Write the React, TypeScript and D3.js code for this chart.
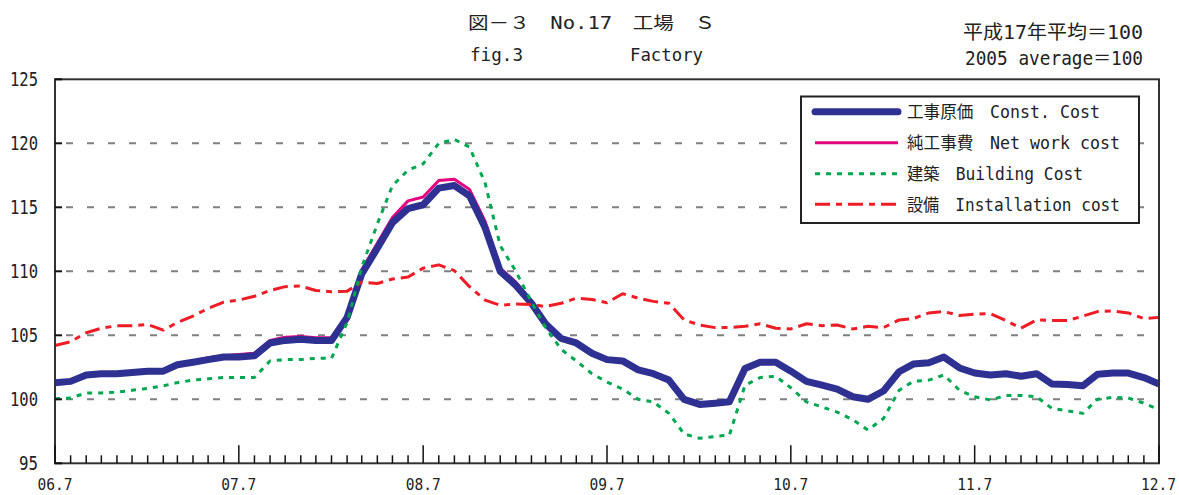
import React from "react";
import * as d3 from "d3";

const months: Date[] = d3.timeMonth.range(new Date(2006, 6, 1), new Date(2012, 7, 1));

const constCost = [
  101.3, 101.4, 101.9, 102.0, 102.0, 102.1, 102.2, 102.2, 102.7, 102.9, 103.1, 103.3,
  103.3, 103.4, 104.4, 104.6, 104.7, 104.6, 104.6, 106.4, 109.8, 111.8, 113.8, 114.9,
  115.2, 116.5, 116.7, 115.9, 113.4, 110.0, 108.9, 107.5, 105.9, 104.75, 104.4, 103.6,
  103.1, 103.0, 102.3, 102.0, 101.5, 100.0, 99.6, 99.7, 99.8, 102.4, 102.9, 102.9,
  102.2, 101.4, 101.1, 100.8, 100.2, 100.0, 100.65, 102.15, 102.75, 102.85, 103.3, 102.45,
  102.05, 101.9, 102.0, 101.8, 102.0, 101.2, 101.15, 101.05, 101.95, 102.05, 102.05, 101.7,
  101.2,
];

const netWorkCost = [
  101.35, 101.45, 101.95, 102.05, 102.1, 102.2, 102.3, 102.3, 102.8, 103.0, 103.25, 103.4,
  103.5, 103.6, 104.6, 104.85, 104.9, 104.8, 104.8, 106.55, 110.1, 112.2, 114.2, 115.5,
  115.8, 117.1, 117.2, 116.4, 113.9, 110.25, 109.15, 107.65, 106.0, 104.85, 104.5, 103.7,
  103.15, 103.05, 102.35, 102.05, 101.55, 100.05, 99.65, 99.75, 99.85, 102.45, 102.95, 102.95,
  102.25, 101.45, 101.15, 100.85, 100.25, 100.05, 100.7, 102.2, 102.8, 102.95, 103.35, 102.5,
  102.1, 101.95, 102.05, 101.85, 102.05, 101.25, 101.2, 101.1, 102.0, 102.1, 102.1, 101.75,
  101.25,
];

const buildingCost = [
  100.05, 100.1, 100.5, 100.5, 100.55, 100.7, 100.85, 101.05, 101.3, 101.5, 101.6, 101.7,
  101.7, 101.7, 103.0, 103.1, 103.1, 103.2, 103.2, 106.0, 110.3, 113.7, 116.7, 117.9,
  118.4, 120.0, 120.3, 119.7, 116.9, 112.0, 110.0, 107.6, 105.6, 103.9, 103.0, 102.0,
  101.35, 100.8, 100.0, 99.8, 98.9, 97.3, 96.95, 97.1, 97.2, 101.1, 101.7, 101.8,
  100.9, 99.8, 99.4, 99.0, 98.4, 97.6, 98.5, 100.7, 101.4, 101.5, 101.9, 100.7,
  100.2, 99.95, 100.3, 100.3, 100.2, 99.3, 99.1, 98.9, 100.0, 100.15, 100.1, 99.7,
  99.2,
];

const installationCost = [
  104.2, 104.5, 105.2, 105.55, 105.75, 105.75, 105.85, 105.4, 106.0, 106.5, 107.1, 107.6,
  107.75, 108.05, 108.5, 108.8, 108.85, 108.5, 108.4, 108.45, 109.15, 109.05, 109.4, 109.55,
  110.25, 110.5, 110.05, 108.8, 107.75, 107.35, 107.45, 107.4, 107.25, 107.5, 107.9, 107.8,
  107.55, 108.25, 107.9, 107.65, 107.5, 106.2, 105.8, 105.6, 105.6, 105.7, 105.9, 105.55,
  105.5, 105.9, 105.75, 105.8, 105.5, 105.7, 105.6, 106.2, 106.3, 106.75, 106.85, 106.55,
  106.65, 106.7, 106.15, 105.55, 106.2, 106.15, 106.15, 106.5, 106.85, 106.9, 106.75, 106.3,
  106.4,
];

const yTicks = [95, 100, 105, 110, 115, 120, 125];
const gridValues = [100, 105, 110, 115, 120];
const xTickLabels = ["06.7", "07.7", "08.7", "09.7", "10.7", "11.7", "12.7"];

const legendItems = [
  { label: "工事原価　Const. Cost", len: 193 },
  { label: "純工事費　Net work cost", len: 213 },
  { label: "建築　Building Cost", len: 176 },
  { label: "設備　Installation cost", len: 213 },
];

const FONT = "'DejaVu Sans Mono', 'Noto Sans CJK JP', monospace";

const styles = [
  { color: "#E4007F", width: 3, dash: "none" },
  { color: "#2E3192", width: 7, dash: "none" },
  { color: "#00A650", width: 3, dash: "5 6" },
  { color: "#EE1C25", width: 3, dash: "15 6 6 6" },
];

export default function App() {
  const W = 1179;
  const H = 495;
  const left = 55, right = 1159, top = 79.3, bottom = 463.3;

  const x = d3.scaleTime().domain([months[0], months[months.length - 1]]).range([left, right]);
  const y = d3.scaleLinear().domain([95, 125]).range([bottom, top]);

  const line = d3
    .line<number>()
    .x((_, i) => x(months[i]))
    .y((d) => y(d));

  const series = [
    { data: netWorkCost, st: styles[0] },
    { data: constCost, st: styles[1] },
    { data: installationCost, st: styles[3] },
    { data: buildingCost, st: styles[2] },
  ];

  const legendOrder = [styles[1], styles[0], styles[2], styles[3]];
  const lx = 801, ly = 96.5, lw = 338, lh = 126.5;
  const rowY = [111.7, 142.7, 173.7, 204.3];

  return (
    <svg
      width={W}
      height={H}
      style={{ position: "absolute", left: 0, top: 0, display: "block", background: "#fff" }}
    >
      <rect x={0} y={0} width={W} height={H} fill="#fff" />
      {/* titles */}
      <text x={468} y={29} fontFamily={FONT} fontSize={17} textLength={247} lengthAdjust="spacingAndGlyphs" fill="#222">
        図－３　No.17　工場　Ｓ
      </text>
      <text x={470} y={61} fontFamily={FONT} fontSize={18} textLength={53} lengthAdjust="spacingAndGlyphs" fill="#222">
        fig.3
      </text>
      <text x={630} y={61} fontFamily={FONT} fontSize={18} textLength={73} lengthAdjust="spacingAndGlyphs" fill="#222">
        Factory
      </text>
      <text x={963} y={39} fontFamily={FONT} fontSize={19} textLength={180} lengthAdjust="spacingAndGlyphs" fill="#222">
        平成17年平均＝100
      </text>
      <text x={965} y={65} fontFamily={FONT} fontSize={19} textLength={178} lengthAdjust="spacingAndGlyphs" fill="#222">
        2005 average＝100
      </text>

      {/* gridlines */}
      {gridValues.map((v) => (
        <line
          key={"g" + v}
          x1={left + 11}
          x2={right - 2}
          y1={y(v)}
          y2={y(v)}
          stroke="#808080"
          strokeWidth={2}
          strokeDasharray="7 14"
        />
      ))}

      {/* series */}
      {series.map((s, k) => (
        <path
          key={"s" + k}
          d={line(s.data) || ""}
          fill="none"
          stroke={s.st.color}
          strokeWidth={s.st.width}
          strokeDasharray={s.st.dash}
          strokeLinejoin="round"
        />
      ))}

      {/* frame */}
      <rect x={left} y={top} width={right - left} height={bottom - top} fill="none" stroke="#333" strokeWidth={2} />

      {/* y ticks */}
      {yTicks.map((v) => (
        <g key={"y" + v}>
          <line x1={left} x2={left + 7} y1={y(v)} y2={y(v)} stroke="#111" strokeWidth={2} />
          <text
            x={38}
            y={y(v) + 7}
            textAnchor="end"
            fontFamily={FONT}
            fontSize={20}
            textLength={String(v).length === 3 ? 28 : 19}
            lengthAdjust="spacingAndGlyphs"
            fill="#222"
          >
            {v}
          </text>
        </g>
      ))}

      {/* x ticks */}
      {months.map((m, i) => (
        <line
          key={"xt" + i}
          x1={x(m)}
          x2={x(m)}
          y1={bottom}
          y2={bottom - (i % 12 === 0 ? 18 : 8)}
          stroke="#111"
          strokeWidth={1.5}
        />
      ))}
      {xTickLabels.map((lab, k) => {
        const last = k === xTickLabels.length - 1;
        return (
          <text
            key={"xl" + k}
            x={last ? W - 3 : x(months[k * 12])}
            y={490}
            textAnchor={last ? "end" : "middle"}
            fontFamily={FONT}
            fontSize={16}
            textLength={35}
            lengthAdjust="spacingAndGlyphs"
            fill="#222"
            style={{ fontSize: 16 }}
          >
            {lab}
          </text>
        );
      })}

      {/* legend */}
      <rect x={lx} y={ly} width={lw} height={lh} fill="#fff" stroke="#222" strokeWidth={2} />
      {legendItems.map((it, k) => (
        <g key={"l" + k}>
          <line
            x1={815}
            x2={898}
            y1={rowY[k]}
            y2={rowY[k]}
            stroke={legendOrder[k].color}
            strokeWidth={legendOrder[k].width}
            strokeDasharray={legendOrder[k].dash}
            strokeLinecap={k === 0 ? "round" : "butt"}
          />
          <text
            x={907}
            y={rowY[k] + 6.5}
            fontFamily={FONT}
            fontSize={17}
            textLength={it.len}
            lengthAdjust="spacingAndGlyphs"
            fill="#222"
          >
            {it.label}
          </text>
        </g>
      ))}
    </svg>
  );
}
